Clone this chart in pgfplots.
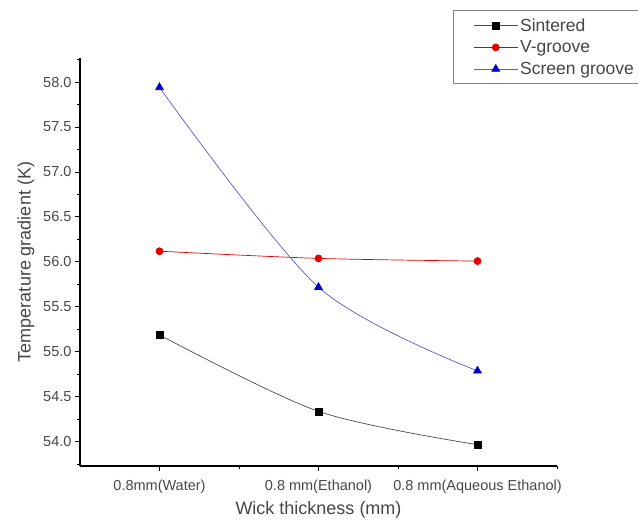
\documentclass[border=0pt]{standalone}
\usepackage{pgfplots}
\pgfplotsset{compat=1.18}
\usepackage{fontspec}
\setmainfont{Liberation Sans}
\definecolor{txt}{RGB}{70,70,70}
\definecolor{blueline}{RGB}{90,90,200}
\begin{document}
\begin{tikzpicture}[x=1pt,y=1pt]
\useasboundingbox (0,0) rectangle (638,524);
\begin{axis}[
  at={(80pt,58pt)}, anchor=south west, scale only axis,
  width=477pt, height=408pt,
  xmin=-0.5, xmax=2.5, ymin=53.733, ymax=58.267,
  axis x line*=bottom, axis y line*=left,
  axis line style={line width=1.3pt, -},
  xtick={0,1,2},
  xticklabels={0.8mm(Water),0.8 mm(Ethanol),0.8 mm(Aqueous Ethanol)},
  minor xtick={0.5,1.5,2.5},
  ytick={54,54.5,...,58},
  minor ytick={53.75,54.25,...,58.25},
  yticklabel style={/pgf/number format/fixed,/pgf/number format/fixed zerofill,/pgf/number format/precision=1},
  /pgf/number format/assume math mode=true,
  tick align=outside,
  major tick length=5pt, minor tick length=3pt,
  tick style={line width=1pt, black},
  ticklabel style={font=\fontsize{14.5}{16}\selectfont, text=txt},
  xticklabel style={yshift=-5pt},
  xlabel={Wick thickness (mm)},
  ylabel={Temperature gradient (K)},
  label style={font=\fontsize{18}{20}\selectfont, text=txt},
  xlabel style={yshift=-2pt},
  ylabel style={yshift=2pt},
  legend style={at={(0.782,1.1175)}, anchor=north west, draw=gray, line width=0.8pt,
    font=\fontsize{17.5}{19}\selectfont, text=txt, inner xsep=2pt, inner ysep=6pt,
    row sep=4pt, cells={anchor=west}},
  legend image code/.code={\path (0pt,0pt); \draw[mark repeat=2,mark phase=2] plot coordinates {(18pt,0pt) (40pt,0pt) (62pt,0pt)};},
  clip=false,
]
\addplot[smooth, color=black!70, line width=0.7pt, mark=square*, mark size=3.5pt, mark options={fill=black, draw=black, solid}]
  coordinates {(0,55.19) (1,54.34) (2,53.97)};
\addlegendentry{Sintered}
\addplot[smooth, color=red!85!black, line width=0.7pt, mark=*, mark size=3.5pt, mark options={fill=red!90!black, draw=red!90!black}]
  coordinates {(0,56.12) (1,56.04) (2,56.01)};
\addlegendentry{V-groove}
\addplot[smooth, color=blueline, line width=0.7pt, mark=triangle*, mark size=4.5pt, mark options={fill=blue!80!black, draw=blue!80!black}]
  coordinates {(0,57.94) (1,55.72) (2,54.79)};
\addlegendentry{Screen groove}
\end{axis}
\end{tikzpicture}
\end{document}
